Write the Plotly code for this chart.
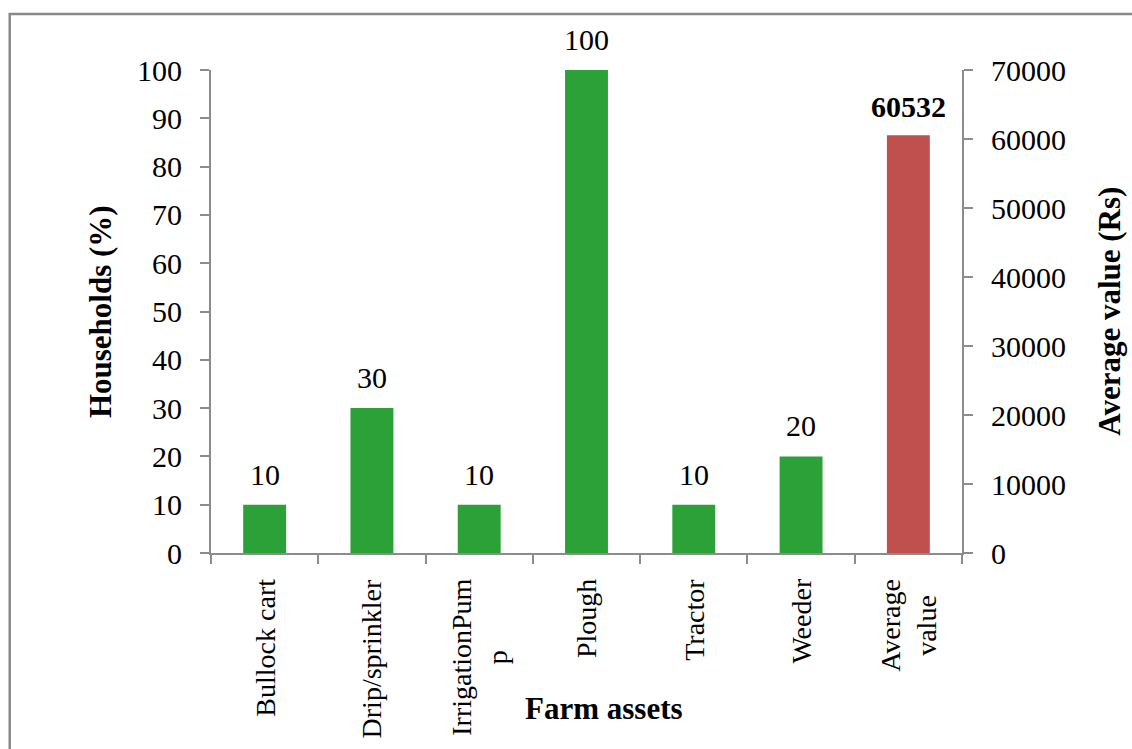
import plotly.graph_objects as go

# Farm asset ownership (% of households) and average asset value (Rs)
assets = ["Bullock cart", "Drip/sprinkler", "IrrigationPum<br>p", "Plough", "Tractor", "Weeder"]
households_pct = [10, 30, 10, 100, 10, 20]
value_label = "Average<br>value"
average_value_rs = [60532]
categories = assets + [value_label]

pct_ticks = list(range(0, 101, 10))
rs_ticks = list(range(0, 70001, 10000))

FONT = "Liberation Serif, Times New Roman, serif"
GREEN = "#2CA137"
RED = "#C0504D"
AXIS = "#8C8C8C"

fig = go.Figure()
fig.add_trace(go.Bar(
    x=assets, y=households_pct, marker=dict(color=GREEN, line=dict(width=0)),
    width=0.4, yaxis="y", showlegend=False,
))
fig.add_trace(go.Bar(
    x=[value_label], y=average_value_rs, marker=dict(color=RED, line=dict(width=0)),
    width=0.4, yaxis="y2", showlegend=False,
))

annotations = []
# value labels above each bar
for a, v in zip(assets, households_pct):
    annotations.append(dict(x=a, y=v, xref="x", yref="y", text=str(v), showarrow=False,
                            yanchor="bottom", yshift=12, font=dict(family=FONT, size=30, color="black")))
annotations.append(dict(x=value_label, y=average_value_rs[0], xref="x", yref="y2",
                        text="<b>%d</b>" % average_value_rs[0], showarrow=False,
                        yanchor="bottom", yshift=10, font=dict(family=FONT, size=30, color="black")))
# rotated category labels with centred lines
for c in categories:
    annotations.append(dict(x=c, y=0, xref="x", yref="paper", text=c, showarrow=False,
                            textangle=-90, align="center", xanchor="center", yanchor="top",
                            yshift=-24, font=dict(family=FONT, size=28, color="black")))
# axis titles
annotations.append(dict(x=-0.147, y=0.5, xref="paper", yref="paper", text="<b>Households (%)</b>",
                        showarrow=False, textangle=-90, xanchor="center", yanchor="middle",
                        font=dict(family=FONT, size=31, color="black")))
annotations.append(dict(x=1.196, y=0.5, xref="paper", yref="paper", text="<b>Average value (Rs)</b>",
                        showarrow=False, textangle=-90, xanchor="center", yanchor="middle",
                        font=dict(family=FONT, size=31, color="black")))
annotations.append(dict(x=0.523, y=-0.321, xref="paper", yref="paper", text="<b>Farm assets</b>",
                        showarrow=False, xanchor="center", yanchor="middle",
                        font=dict(family=FONT, size=31, color="black")))

fig.update_layout(
    width=1132, height=749,
    margin=dict(l=211, r=170, t=70, b=196),
    paper_bgcolor="white", plot_bgcolor="white",
    barmode="overlay",
    font=dict(family=FONT, size=30, color="black"),
    xaxis=dict(
        type="category", categoryorder="array", categoryarray=categories,
        range=[-0.5, len(categories) - 0.5], showticklabels=False,
        showline=True, linecolor=AXIS, linewidth=2,
        ticks="outside", tickson="boundaries", ticklen=9, tickcolor=AXIS, tickwidth=2,
        showgrid=False, zeroline=False,
    ),
    yaxis=dict(
        range=[0, 100], tickvals=pct_ticks, ticktext=[str(t) for t in pct_ticks],
        showline=True, linecolor=AXIS, linewidth=2, ticklabelstandoff=12,
        ticks="outside", ticklen=9, tickcolor=AXIS, tickwidth=2, showgrid=False, zeroline=False,
        tickfont=dict(family=FONT, size=30, color="black"),
    ),
    yaxis2=dict(
        range=[0, 70000], tickvals=rs_ticks, ticktext=[str(t) for t in rs_ticks],
        overlaying="y", side="right", ticklabelstandoff=12,
        showline=True, linecolor=AXIS, linewidth=2,
        ticks="outside", ticklen=9, tickcolor=AXIS, tickwidth=2, showgrid=False, zeroline=False,
        tickfont=dict(family=FONT, size=30, color="black"),
    ),
    annotations=annotations,
    shapes=[dict(type="rect", xref="paper", yref="paper",
                 x0=-0.268, x1=1.25, y0=-0.45, y1=1.116,
                 line=dict(color="#898989", width=2.5), fillcolor="rgba(0,0,0,0)", layer="below")],
)

fig.write_html("out.html")
